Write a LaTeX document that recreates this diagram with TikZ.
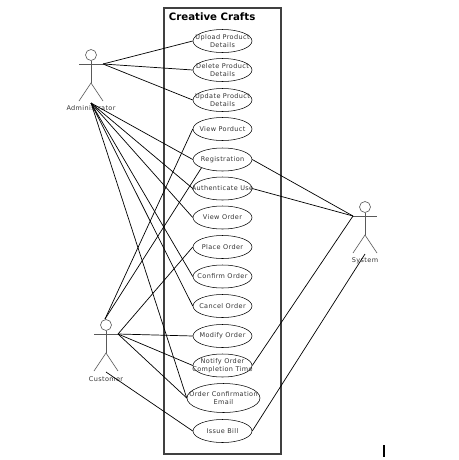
\documentclass[tikz,border=0pt]{standalone}
\usepackage{fontspec}
\setmainfont[LetterSpace=6]{DejaVu Sans}
\usetikzlibrary{shapes.geometric}
\newfontfamily\titlefont{DejaVu Sans}
\tikzset{
  usecase/.style={draw,ellipse,inner sep=0pt,minimum width=1.18cm,minimum height=0.46cm,line width=0.3pt},
  every label/.style={align=center,font=\fontsize{3.7}{4.8}\selectfont,text=black!80},
  limb/.style={black!65,line width=0.35pt},
  actorname/.style={font=\fontsize{3.7}{5}\selectfont,text=black!80},
  assoc/.style={line width=0.4pt},
  stickman/.pic={
    \node[draw,circle,limb,inner sep=0pt,minimum size=0.22cm] (-head) at (0,-9) {};
    \draw[limb] (-head) -- (0,19) coordinate (-hip);
    \draw[limb] (-12,0) coordinate (-arm) -- (12,0) coordinate (-hand);
    \draw[limb] (-12,37) -- (-hip) -- (12,37);
  },
}
\begin{document}
\begin{tikzpicture}[x=0.02cm,y=-0.02cm]
    \useasboundingbox (0,0) rectangle (458,460);
    \draw[black!75,line width=0.6pt] (164,8) rectangle (281,454);
    \node[anchor=west,inner sep=0pt,font=\titlefont\bfseries\fontsize{5.8}{7}\selectfont] (title) at (168.5,17) {Creative Crafts};
    % use cases
    \node[usecase,label={center:Upload Product\\Details}] (upload) at (222.5,41) {};
    \node[usecase,label={center:Delete Product\\Details}] (delete) at (222.5,70) {};
    \node[usecase,label={center:Update Product\\Details}] (update) at (222.5,100) {};
    \node[usecase,label={center:View Porduct}] (viewproduct) at (222.5,129) {};
    \node[usecase,label={center:Registration}] (registration) at (222.5,159.5) {};
    \node[usecase,label={center:Authenticate Use}] (authenticate) at (222.5,188.5) {};
    \node[usecase,label={center:View Order}] (vieworder) at (222.5,217.5) {};
    \node[usecase,label={center:Place Order}] (placeorder) at (222.5,247) {};
    \node[usecase,label={center:Confirm Order}] (confirmorder) at (222.5,276.5) {};
    \node[usecase,label={center:Cancel Order}] (cancelorder) at (222.5,306) {};
    \node[usecase,label={center:Modify Order}] (modifyorder) at (222.5,336) {};
    \node[usecase,label={center:Notify Order\\Completion Time}] (notify) at (222.5,365.5) {};
    \node[usecase,minimum width=1.46cm,minimum height=0.58cm,label={center:Order Confirmation\\Email}] (confirmemail) at (223.5,398) {};
    \node[usecase,label={center:Issue Bill}] (issuebill) at (222.5,431) {};
    % actors
    \pic (admin) at (91,64) {stickman};
    \node[actorname] (adminlabel) at (91,108.5) {Administrator};
    \pic (customer) at (106,334) {stickman};
    \node[actorname] (customerlabel) at (106,379) {Customer};
    \pic (system) at (365,216) {stickman};
    \node[actorname] (systemlabel) at (365,261) {System};
    \coordinate (adminfoot) at (91,103);
    \coordinate (customertop) at (105,319);
    \coordinate (customerfoot) at (106,372);
    \coordinate (systemfoot) at (365,254);
    % admin
    \foreach \uc in {upload,delete,update}
      \draw[assoc] (admin-hand) -- (\uc.west);
    \foreach \uc in {registration,authenticate,vieworder,confirmorder,cancelorder,confirmemail}
      \draw[assoc] (adminfoot) -- (\uc.west);
    % customer
    \draw[assoc] (customertop) -- (viewproduct.west);
    \draw[assoc] (customertop) -- (registration.south west);
    \foreach \uc in {placeorder,modifyorder,notify,confirmemail}
      \draw[assoc] (customer-hand) -- (\uc.west);
    \draw[assoc] (customerfoot) -- (issuebill.west);
    % system
    \foreach \uc in {registration,authenticate,notify}
      \draw[assoc] (system-arm) -- (\uc.east);
    \draw[assoc] (systemfoot) -- (issuebill.east);
    \coordinate (ticktop) at (384,445);
    \coordinate (tickend) at (384,457);
    \draw[line width=0.8pt] (ticktop) -- (tickend);
\end{tikzpicture}
\end{document}
